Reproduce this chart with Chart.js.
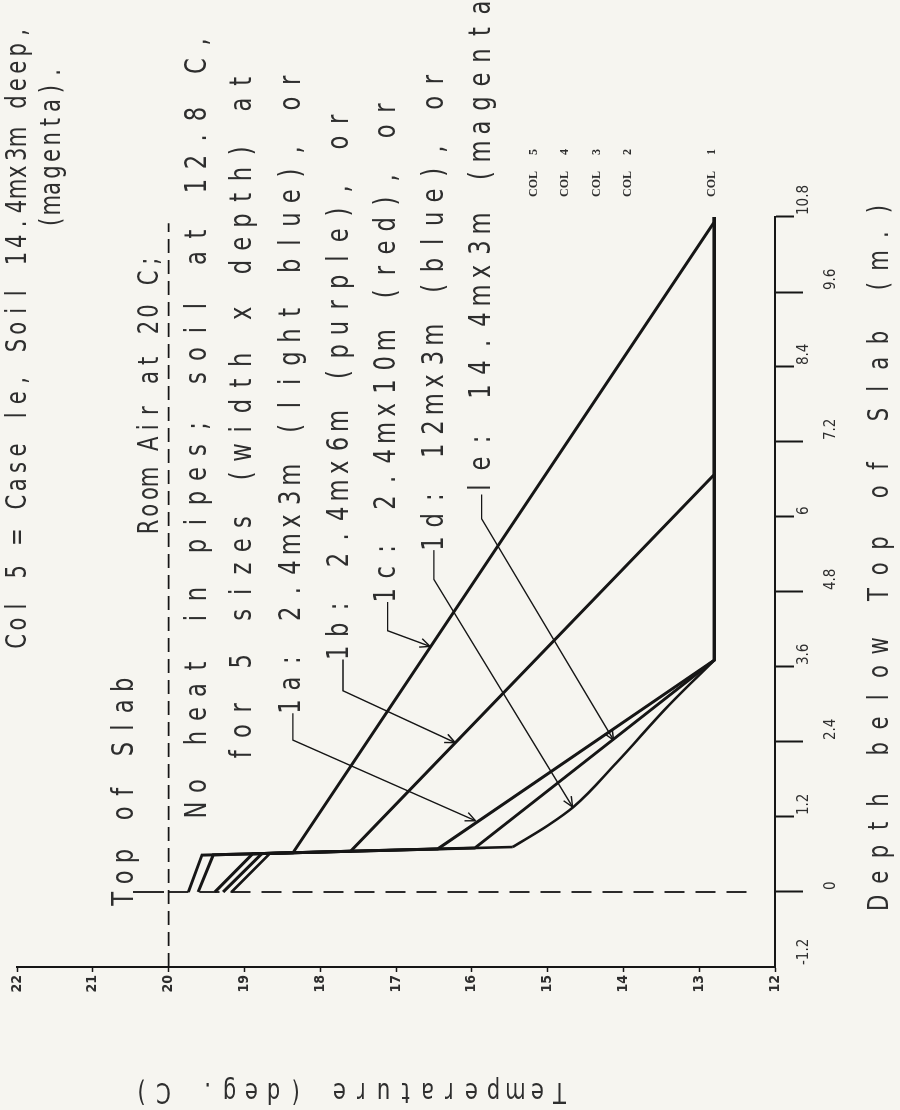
<!DOCTYPE html>
<html>
<head>
<meta charset="utf-8">
<script src="https://cdn.jsdelivr.net/npm/chart.js"></script>
<style>
  html, body { margin: 0; padding: 0; background: #f6f5f0; }
  #page { position: relative; width: 900px; height: 1110px; overflow: hidden; background: #f6f5f0; }
  /* the scanned page is turned a quarter turn, so the chart is drawn upright and rotated */
  #slabChart { position: absolute; left: 0; top: 0; width: 1110px; height: 900px;
    transform-origin: 0 0; transform: translate(0px, 1110px) rotate(-90deg); }
</style>
</head>
<body>
<div id="page"><canvas id="slabChart" width="1110" height="900"></canvas></div>
<script>
// axis ticks
const depthTicks = [-1.2, 0, 1.2, 2.4, 3.6, 4.8, 6, 7.2, 8.4, 9.6, 10.8];
const depthTickLabels = ['-1.2', '0', '1.2', '2.4', '3.6', '4.8', '6', '7.2', '8.4', '9.6', '10.8'];
const tempTicks = [12, 13, 14, 15, 16, 17, 18, 19, 20, 21, 22];
const tempTickLabels = ['12', '13', '14', '15', '16', '17', '18', '19', '20', '21', '22'];

// temperature profiles (depth m, temp C): surface, slab, insulation drop, soil
const case1aDepth = [0, 0.611, 0.689, 3.71, 10.8];
const case1aTemp = [19.39, 18.89, 16.45, 12.8, 12.8];
const case1bDepth = [0, 0.595, 0.652, 6.68, 10.8];
const case1bTemp = [19.61, 19.41, 17.6, 12.8, 12.8];
const case1cDepth = [0, 0.59, 0.628, 10.72, 10.8];
const case1cTemp = [19.74, 19.56, 18.36, 12.8, 12.8];
const case1dDepth = [0, 0.619, 0.72, 1.07, 1.36, 2.07, 3.0, 3.71, 10.8];
const case1dTemp = [19.17, 18.66, 15.46, 14.99, 14.66, 14.09, 13.39, 12.8, 12.8];
const case1eDepth = [0, 0.615, 0.704, 3.71, 10.8];
const case1eTemp = [19.28, 18.77, 15.96, 12.8, 12.8];

// reference lines
const roomAirDepth = [-1.2, 10.7];
const roomAirTemp = [20, 20];
const slabTopDepth = [0, 0];
const slabTopTemp = [20, 12.3];
const slabMarkDepth = [0, 0];
const slabMarkTemp = [20.47, 20.06];

// leader lines from the labels to the curves
const leader1aDepth = [2.86, 2.43, 1.14];
const leader1aTemp = [18.36, 18.36, 15.95];
const leader1bDepth = [3.72, 3.22, 2.39];
const leader1bTemp = [17.70, 17.70, 16.22];
const leader1cDepth = [4.64, 4.18, 3.93];
const leader1cTemp = [17.11, 17.11, 16.55];
const leader1dDepth = [5.47, 5.0, 1.36];
const leader1dTemp = [16.50, 16.50, 14.67];
const leader1eDepth = [6.36, 5.97, 2.43];
const leader1eTemp = [15.87, 15.87, 14.13];

const ink = '#161616';
const textInk = '#2e2e2e';
const paper = '#f6f5f0';
const plotFont = "'Liberation Sans Narrow', 'DejaVu Sans Condensed', sans-serif";

// text notes placed in data units (depth, temp) at the start of the baseline
const notes = [
  { text: 'Col 5 = Case le, Soil 14.4mx3m deep,', depth: 3.95, temp: 21.88, pitch: 17.4, size: 28 },
  { text: '(magenta).', depth: 10.67, temp: 21.43, pitch: 16.6, size: 28 },
  { text: 'Top of Slab', depth: -0.2, temp: 20.47, pitch: 21.4 },
  { text: 'Room Air at 20 C;', depth: 5.79, temp: 20.14, pitch: 16.6, size: 28 },
  { text: 'No heat in pipes; soil at 12.8 C,', depth: 1.2, temp: 19.51, pitch: 24 },
  { text: 'for 5 sizes (width x depth) at', depth: 2.1, temp: 18.91 },
  { text: '1a: 2.4mx3m (light blue), or', depth: 2.86, temp: 18.27 },
  { text: '1b: 2.4mx6m (purple), or', depth: 3.72, temp: 17.63 },
  { text: '1c: 2.4mx10m (red), or', depth: 4.64, temp: 17.01 },
  { text: '1d: 12mx3m (blue), or', depth: 5.47, temp: 16.38 },
  { text: 'le: 14.4mx3m (magenta)', depth: 6.36, temp: 15.76, pitch: 24 }
];
const colNames = ['1', '2', '3', '4', '5'];
const colTemps = [12.79, 13.9, 14.31, 14.73, 15.14];

function pts(xs, ys) {
  return xs.map((x, i) => ({ x: x, y: ys[i] }));
}

function lineSet(label, xs, ys, width, dash, smooth) {
  return {
    label: label,
    data: pts(xs, ys),
    showLine: true,
    borderColor: ink,
    borderWidth: width,
    borderDash: dash || [],
    pointRadius: 0,
    tension: 0,
    cubicInterpolationMode: smooth ? 'monotone' : 'default',
    fill: false
  };
}

const leaderIds = ['lead1a', 'lead1b', 'lead1c', 'lead1d', 'lead1e'];

const datasets = [
  lineSet('room air', roomAirDepth, roomAirTemp, 1.8, [14, 7]),
  lineSet('slab top', slabTopDepth, slabTopTemp, 1.8, [20, 11]),
  lineSet('slab mark', slabMarkDepth, slabMarkTemp, 1.8),
  lineSet('1a', case1aDepth, case1aTemp, 3),
  lineSet('1b', case1bDepth, case1bTemp, 3),
  lineSet('1c', case1cDepth, case1cTemp, 3),
  // 1d: straight through the slab, smooth bend in the soil, flat below
  lineSet('1d', case1dDepth.slice(0, 3), case1dTemp.slice(0, 3), 2.6),
  lineSet('1d soil', case1dDepth.slice(2, 8), case1dTemp.slice(2, 8), 2.6, null, true),
  lineSet('1d base', case1dDepth.slice(7), case1dTemp.slice(7), 2.6),
  lineSet('1e', case1eDepth, case1eTemp, 3),
  lineSet('lead1a', leader1aDepth, leader1aTemp, 1.4),
  lineSet('lead1b', leader1bDepth, leader1bTemp, 1.4),
  lineSet('lead1c', leader1cDepth, leader1cTemp, 1.4),
  lineSet('lead1d', leader1dDepth, leader1dTemp, 1.4),
  lineSet('lead1e', leader1eDepth, leader1eTemp, 1.4)
];

// plotter style lettering: each glyph narrowed and set on a fixed pitch
function drawSpaced(ctx, text, x, y, pitch) {
  ctx.textAlign = 'center';
  for (let i = 0; i < text.length; i++) {
    ctx.save();
    ctx.translate(x + i * pitch + pitch / 2, y);
    ctx.scale(0.84, 1);
    ctx.fillText(text[i], 0, 0);
    ctx.restore();
  }
}

const paperText = {
  id: 'paperText',
  beforeDraw(chart) {
    const ctx = chart.ctx;
    ctx.save();
    ctx.fillStyle = paper;
    ctx.fillRect(0, 0, chart.width, chart.height);
    ctx.restore();
  },
  afterDraw(chart) {
    const ctx = chart.ctx;
    const xs = chart.scales.x;
    const ys = chart.scales.y;
    const area = chart.chartArea;
    ctx.save();
    ctx.fillStyle = textInk;
    ctx.strokeStyle = ink;
    ctx.textBaseline = 'alphabetic';

    // notes
    notes.forEach(n => {
      ctx.font = (n.size || 30) + 'px ' + plotFont;
      drawSpaced(ctx, n.text, xs.getPixelForValue(n.depth) - 5, ys.getPixelForValue(n.temp), n.pitch || 23.2);
    });

    // arrow heads on the leaders
    chart.data.datasets.forEach((ds, i) => {
      if (leaderIds.indexOf(ds.label) < 0) return;
      const el = chart.getDatasetMeta(i).data;
      const a = el[el.length - 2], b = el[el.length - 1];
      const ang = Math.atan2(b.y - a.y, b.x - a.x);
      ctx.lineWidth = 1.4;
      ctx.beginPath();
      [0.42, -0.42].forEach(d => {
        ctx.moveTo(b.x, b.y);
        ctx.lineTo(b.x - 11 * Math.cos(ang + d), b.y - 11 * Math.sin(ang + d));
      });
      ctx.stroke();
    });

    // column tags at the right end
    ctx.font = 'bold 12px "Liberation Serif", "DejaVu Serif", serif';
    ctx.textAlign = 'left';
    colNames.forEach((c, i) => {
      const y = ys.getPixelForValue(colTemps[i]);
      ctx.fillText('COL', area.right + 20, y);
      ctx.fillText(c, area.right + 62, y);
    });

    // axis titles
    ctx.font = '28px ' + plotFont;
    drawSpaced(ctx, 'Depth below Top of Slab (m.)', xs.getPixelForValue(-0.30) - 5, area.bottom + 113, 25.7);
    ctx.save();
    ctx.translate(27, ys.getPixelForValue(17.6));
    ctx.rotate(-Math.PI / 2);
    const title = 'Temperature (deg. C)';
    drawSpaced(ctx, title, -title.length * 22 / 2, 0, 22);
    ctx.restore();

    ctx.restore();
  }
};

new Chart(document.getElementById('slabChart').getContext('2d'), {
  type: 'scatter',
  data: { datasets: datasets },
  options: {
    responsive: false,
    animation: false,
    devicePixelRatio: 1,
    layout: { padding: { left: 103, right: 217, top: 17, bottom: 65 } },
    plugins: {
      legend: { display: false },
      tooltip: { enabled: false },
      title: { display: false }
    },
    scales: {
      x: {
        type: 'linear',
        min: -1.2,
        max: 10.8,
        afterBuildTicks: s => { s.ticks = depthTicks.map(v => ({ value: v })); },
        afterFit: s => { s.height = 60; },
        border: { display: true, color: ink, width: 2 },
        grid: {
          drawOnChartArea: false,
          drawTicks: true,
          tickLength: 28,
          tickWidth: 2,
          tickColor: c => (c.index === 0 ? 'rgba(0,0,0,0)' : ink),
          tickBorderDash: c => (c.index % 2 === 0 ? [18, 200] : [])
        },
        ticks: {
          autoSkip: false,
          maxRotation: 0,
          align: 'start',
          labelOffset: 2,
          padding: -12,
          color: textInk,
          font: { family: plotFont, size: 15, lineHeight: 1.8 },
          callback: (v, i) => (i % 2 === 1 ? ['', depthTickLabels[i]] : depthTickLabels[i])
        }
      },
      y: {
        type: 'linear',
        min: 12,
        max: 22,
        afterBuildTicks: s => { s.ticks = tempTicks.map(v => ({ value: v })); },
        afterFit: s => { s.width = 40; },
        border: { display: true, color: ink, width: 2 },
        grid: { drawOnChartArea: false, tickLength: 5, tickWidth: 1.5, tickColor: ink },
        ticks: {
          padding: 3,
          color: textInk,
          font: { family: plotFont, size: 14, weight: 'bold' },
          callback: (v, i) => tempTickLabels[i]
        }
      }
    }
  },
  plugins: [paperText]
});
</script>
</body>
</html>
